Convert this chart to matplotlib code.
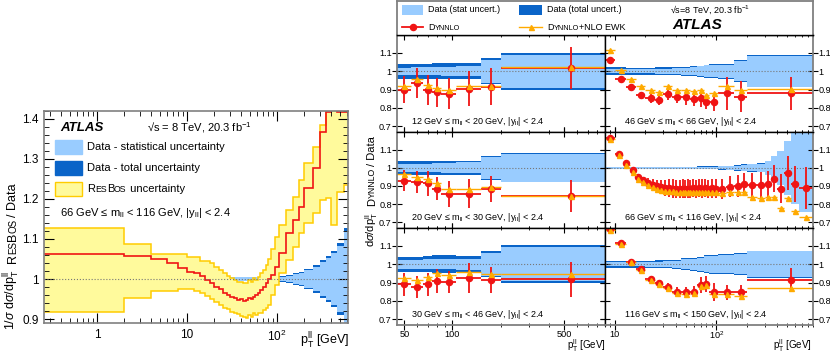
import numpy as np
import matplotlib.pyplot as plt
from matplotlib.ticker import MultipleLocator, LogLocator, FixedLocator, FuncFormatter, NullFormatter
from matplotlib.offsetbox import TextArea, HPacker, AnchoredOffsetbox
from matplotlib.patches import Rectangle
from matplotlib.lines import Line2D

plt.rcParams['font.family'] = ['Liberation Sans', 'DejaVu Sans']
plt.rcParams['mathtext.fontset'] = 'custom'
plt.rcParams['mathtext.rm'] = 'Liberation Sans'
plt.rcParams['mathtext.it'] = 'Liberation Sans:italic'
plt.rcParams['mathtext.bf'] = 'Liberation Sans:bold'

STAT = '#99ccff'
TOTAL = '#0a64c8'
YFILL = '#fffa9c'
YEDGE = '#ffcc00'
RED = '#f01414'
ORANGE = '#ffaa00'
FRAME = '#808080'

# ---------------- left panel: ResBos / data, 66 <= m < 116 GeV
z_edges = [0.2, 2, 4, 6, 8, 10, 12, 14, 16, 18, 20, 22.5, 25, 27.5, 30, 33, 36, 39, 42,
           45, 48, 51, 54, 57, 61, 65, 70, 75, 80, 85, 95, 105, 125, 150, 175, 200, 250,
           300, 350, 400, 470, 550, 650, 900]
z_tot = [0.0075, 0.005, 0.005, 0.005, 0.005, 0.005, 0.005, 0.005, 0.005, 0.005, 0.005,
         0.005, 0.005, 0.005, 0.005, 0.005, 0.005, 0.005, 0.005, 0.005, 0.005, 0.005,
         0.005, 0.005, 0.005, 0.005, 0.005, 0.005, 0.005, 0.005, 0.006, 0.007, 0.009,
         0.015, 0.018, 0.025, 0.035, 0.047, 0.058, 0.07, 0.09, 0.127, 0.2]
z_stat = [0.003, 0.003, 0.003, 0.003, 0.003, 0.004, 0.004, 0.004, 0.004, 0.004, 0.004,
          0.004, 0.004, 0.004, 0.004, 0.004, 0.004, 0.004, 0.004, 0.004, 0.004, 0.004,
          0.004, 0.004, 0.004, 0.004, 0.004, 0.004, 0.004, 0.004, 0.005, 0.006, 0.008,
          0.013, 0.016, 0.022, 0.031, 0.042, 0.052, 0.064, 0.083, 0.12, 0.19]
rb_ratio = [1.062, 1.058, 1.049, 1.039, 1.027, 1.018, 1.014, 1.008, 0.998, 0.989, 0.981,
            0.974, 0.966, 0.960, 0.956, 0.952, 0.947, 0.949, 0.945, 0.947, 0.952, 0.949,
            0.956, 0.960, 0.964, 0.972, 0.981, 0.991, 1.000, 1.010, 1.031, 1.064, 1.114,
            1.148, 1.181, 1.227, 1.277, 1.368, 1.417, 1.45, 1.417, 1.417, 1.45]
rb_up = [1.128, 1.087, 1.062, 1.062, 1.062, 1.056, 1.056, 1.046, 1.046, 1.039, 1.031,
         1.022, 1.014, 1.008, 1.002, 0.998, 0.993, 0.993, 0.989, 0.991, 0.998, 0.993,
         1.002, 0.998, 1.006, 1.014, 1.022, 1.035, 1.050, 1.075, 1.106, 1.135, 1.172,
         1.206, 1.248, 1.289, 1.331, 1.385, 1.45, 1.45, 1.45, 1.45, 1.45]
rb_down = [0.917, 0.952, 0.970, 0.970, 0.974, 0.974, 0.971, 0.966, 0.958, 0.949, 0.943,
           0.935, 0.928, 0.924, 0.918, 0.914, 0.912, 0.908, 0.904, 0.902, 0.910, 0.906,
           0.914, 0.910, 0.914, 0.916, 0.922, 0.927, 0.935, 0.960, 0.985, 1.014, 1.048,
           1.081, 1.114, 1.139, 1.164, 1.198, 1.202, 1.135, 1.218, 1.235, 1.30]

# ---------------- right panels: DYNNLO / data
low_edges = [45, 55, 65, 75, 85, 105, 150, 200, 900]
mid_edges = [8, 10, 13, 16, 20, 25, 30, 37, 45, 55, 65, 75, 85, 105, 150, 200, 900]
z8_edges = [8, 10, 12, 14, 16, 18, 20, 22.5, 25, 27.5, 30, 33, 36, 39, 42, 45, 48, 51, 54,
            57, 61, 65, 70, 75, 80, 85, 95, 105, 125, 150, 175, 200, 250, 300, 350, 400,
            470, 550, 650, 900]

# 12-20 GeV
m12_tot = [0.04, 0.041, 0.042, 0.043, 0.044, 0.045, 0.072, 0.10]
m12_stat = [0.02, 0.021, 0.022, 0.023, 0.024, 0.026, 0.062, 0.09]
m12_dyn = [0.90, 0.935, 0.897, 0.885, 0.877, 0.904, 0.916, 1.02]
m12_err = [0.075, 0.08, 0.08, 0.08, 0.085, 0.095, 0.10, 0.115]
m12_ewk = [0.92, 0.955, 0.925, 0.908, 0.895, 0.917, 0.92, 1.023]
# 20-30 GeV
m20_tot = [0.037, 0.037, 0.038, 0.038, 0.039, 0.04, 0.066, 0.08]
m20_stat = [0.022, 0.023, 0.024, 0.025, 0.026, 0.03, 0.062, 0.077]
m20_dyn = [0.93, 0.921, 0.914, 0.886, 0.856, 0.856, 0.883, 0.844]
m20_err = [0.057, 0.06, 0.07, 0.065, 0.07, 0.08, 0.07, 0.087]
m20_ewk = [0.965, 0.947, 0.94, 0.914, 0.886, 0.883, 0.895, 0.846]
# 30-46 GeV
m30_tot = [0.042, 0.042, 0.045, 0.05, 0.048, 0.045, 0.072, 0.103]
m30_stat = [0.025, 0.025, 0.026, 0.028, 0.028, 0.03, 0.062, 0.093]
m30_dyn = [0.89, 0.874, 0.89, 0.908, 0.901, 0.923, 0.914, 0.918]
m30_err = [0.064, 0.06, 0.064, 0.064, 0.06, 0.082, 0.07, 0.096]
m30_ewk = [0.923, 0.914, 0.932, 0.95, 0.939, 0.96, 0.945, 0.945]
# 46-66 GeV
m46_tot = [0.022, 0.021, 0.02, 0.02, 0.02, 0.021, 0.022, 0.023, 0.025, 0.027, 0.03,
           0.036, 0.037, 0.04, 0.06, 0.088]
m46_stat = [0.012, 0.011, 0.011, 0.011, 0.012, 0.013, 0.014, 0.016, 0.019, 0.022, 0.026,
            0.032, 0.033, 0.036, 0.056, 0.085]
m46_dyn = [1.059, 0.957, 0.915, 0.87, 0.852, 0.843, 0.874, 0.861, 0.858, 0.849, 0.852,
           0.831, 0.831, 0.879, 0.861, 0.879]
m46_err = [0.01, 0.01, 0.012, 0.018, 0.025, 0.028, 0.03, 0.035, 0.04, 0.04, 0.045,
           0.035, 0.05, 0.09, 0.085, 0.09]
m46_ewk = [1.117, 1.009, 0.96, 0.919, 0.897, 0.888, 0.919, 0.90, 0.897, 0.892, 0.897,
           0.87, 0.88, 0.919, 0.897, 0.901]
# 66-116 GeV
m66_tot = [0.007, 0.007, 0.007, 0.007, 0.007, 0.007, 0.007, 0.007, 0.007, 0.007, 0.007,
           0.007, 0.007, 0.007, 0.007, 0.007, 0.007, 0.007, 0.007, 0.007, 0.007, 0.008,
           0.008, 0.008, 0.008, 0.009, 0.009, 0.01, 0.012, 0.015, 0.02, 0.022, 0.025,
           0.04, 0.067, 0.094, 0.15, 0.2, 0.245]
m66_stat = [0.004, 0.004, 0.004, 0.004, 0.004, 0.004, 0.004, 0.004, 0.004, 0.004, 0.004,
            0.004, 0.004, 0.004, 0.004, 0.004, 0.004, 0.004, 0.004, 0.004, 0.005, 0.005,
            0.005, 0.005, 0.006, 0.006, 0.007, 0.008, 0.01, 0.013, 0.018, 0.02, 0.023,
            0.038, 0.065, 0.092, 0.148, 0.198, 0.243]
m66_dyn = [1.166, 1.079, 1.025, 0.986, 0.95, 0.932, 0.917, 0.906, 0.898, 0.893, 0.889,
           0.887, 0.886, 0.885, 0.884, 0.886, 0.884, 0.886, 0.885, 0.887, 0.885, 0.887,
           0.886, 0.888, 0.885, 0.887, 0.884, 0.881, 0.895, 0.899, 0.91, 0.905, 0.905,
           0.91, 0.94, 0.886, 0.971, 0.91, 0.89]
m66_err = [0.008, 0.008, 0.01, 0.012, 0.015, 0.02, 0.025, 0.03, 0.035, 0.04, 0.045, 0.05,
           0.05, 0.05, 0.05, 0.05, 0.05, 0.05, 0.05, 0.05, 0.05, 0.05, 0.05,
           0.05, 0.05, 0.052, 0.052, 0.055, 0.058, 0.06, 0.062, 0.068, 0.07, 0.072,
           0.075, 0.08, 0.095, 0.1, 0.115]
m66_ewk = [1.157, 1.072, 1.018, 0.978, 0.941, 0.922, 0.906, 0.894, 0.886, 0.879, 0.875,
           0.872, 0.87, 0.869, 0.868, 0.869, 0.867, 0.869, 0.867, 0.869, 0.866, 0.868,
           0.866, 0.867, 0.865, 0.866, 0.864, 0.86, 0.868, 0.868, 0.868, 0.841, 0.832,
           0.841, 0.838, 0.78, 0.832, 0.76, 0.73]
# 116-150 GeV
m116_tot = [0.02, 0.02, 0.02, 0.02, 0.02, 0.021, 0.022, 0.025, 0.033, 0.036, 0.04, 0.05,
            0.052, 0.055, 0.06, 0.075]
m116_stat = [0.012, 0.012, 0.012, 0.012, 0.013, 0.014, 0.016, 0.019, 0.027, 0.031, 0.035,
             0.045, 0.047, 0.05, 0.056, 0.072]
m116_dyn = [1.19, 1.115, 1.014, 0.973, 0.918, 0.896, 0.874, 0.85, 0.846, 0.85, 0.886,
            0.892, 0.85, 0.846, 0.846, 0.914]
m116_err = [0.01, 0.01, 0.012, 0.015, 0.018, 0.02, 0.025, 0.025, 0.028, 0.03, 0.045,
            0.045, 0.05, 0.04, 0.04, 0.064]
m116_ewk = [1.185, 1.112, 1.01, 0.968, 0.914, 0.891, 0.869, 0.843, 0.84, 0.845, 0.88,
            0.886, 0.84, 0.835, 0.826, 0.868]

W, H = 830, 355
fig = plt.figure(figsize=(W / 100, H / 100), dpi=100)


def box(x0, y0, x1, y1):
    # pixel box measured from the top-left corner -> figure fraction rect
    return [x0 / W, 1 - y1 / H, (x1 - x0) / W, (y1 - y0) / H]


def fpt(x, y):
    return (x / W, 1 - y / H)


def sc_text(x, y, parts, loc='center left'):
    # mixed-size text ("small caps") placed at figure pixel (x, y)
    kids = [TextArea(s, textprops=dict(size=sz, color='black')) for s, sz in parts]
    pack = HPacker(children=kids, align='baseline', pad=0, sep=0)
    ab = AnchoredOffsetbox(loc=loc, child=pack, bbox_to_anchor=fpt(x, y),
                           bbox_transform=fig.transFigure, frameon=False, pad=0, borderpad=0)
    fig.add_artist(ab)


def vchain(x, y, parts):
    # vertical label built from pieces, reading upwards from (x, y) pixels
    rend = fig.canvas.get_renderer()
    cur = H - y
    for s, sz, gap in parts:
        t = fig.text(x / W, cur / H, s, fontsize=sz, rotation=90, rotation_mode='anchor',
                     ha='left', va='baseline')
        cur += t.get_window_extent(rend).height + gap


def band(ax, edges, tot, stat):
    tot = np.array(tot)
    stat = np.array(stat)
    ax.stairs(1 + tot, edges, baseline=1 - tot, fill=True, color=TOTAL, lw=0)
    ax.stairs(1 + stat, edges, baseline=1 - stat, fill=True, color=STAT, lw=0)


# ---------------- left panel
axL = fig.add_axes(box(44, 111, 348, 323))
axL.set_xscale('log')
band(axL, z_edges, z_tot, z_stat)
axL.stairs(rb_up, z_edges, baseline=rb_down, fill=True, facecolor=YFILL,
           edgecolor=YEDGE, lw=1.1)
axL.axhline(1, color='#777777', ls=':', lw=0.8)
axL.stairs(rb_ratio, z_edges, baseline=None, color=RED, lw=1.2)
axL.set_xlim(0.258, 615)
axL.set_ylim(0.89, 1.42)
axL.yaxis.set_major_locator(MultipleLocator(0.1))
axL.yaxis.set_minor_locator(MultipleLocator(0.02))
axL.yaxis.set_major_formatter(FuncFormatter(lambda v, p: '%g' % round(v, 2)))
axL.xaxis.set_major_locator(LogLocator(base=10))
axL.xaxis.set_minor_locator(LogLocator(base=10, subs=np.arange(2, 10)))
axL.xaxis.set_minor_formatter(NullFormatter())
xl_names = {1: '1', 10: '10', 100: '$10^{2}$'}
axL.xaxis.set_major_formatter(FuncFormatter(lambda v, p: xl_names.get(int(round(v)), '')))
axL.tick_params(which='both', direction='in', top=True, right=True, labelsize=8.5,
                colors='black')
axL.tick_params(which='major', length=7, pad=4)
axL.tick_params(which='minor', length=3.5)
for sp in axL.spines.values():
    sp.set_color(FRAME)
    sp.set_linewidth(1.2)

fig.text(*fpt(60, 128), 'ATLAS', fontsize=9.5, fontweight='bold', style='italic', va='center')
fig.text(*fpt(147, 128), r'√s = 8 TeV, 20.3 fb$^{-1}$', fontsize=8, va='center')
leg_rows = [(147, STAT, STAT), (168, TOTAL, TOTAL), (189, YFILL, YEDGE)]
for yy, fc, ec in leg_rows:
    fig.add_artist(Rectangle(fpt(55, yy + 7), 27 / W, 14 / H, transform=fig.transFigure,
                             facecolor=fc, edgecolor=ec, lw=1))
fig.text(*fpt(87, 147), 'Data - statistical uncertainty', fontsize=8, va='center')
fig.text(*fpt(87, 168), 'Data - total uncertainty', fontsize=8, va='center')
sc_text(87, 189, [('R', 8), ('ES', 6.3), ('B', 8), ('OS', 6.3), (' uncertainty', 8)])
fig.text(*fpt(60, 213), r'66 GeV ≤ m$_{\rm ll}$ < 116 GeV, |y$_{\rm ll}$| < 2.4',
         fontsize=8, va='center')
fig.text(*fpt(349, 341), r'p$_{\rm T}^{\rm ll}$ [GeV]', fontsize=9, ha='right', va='center')
vchain(16, 330, [(r'1/$\sigma$ d$\sigma$/dp$_{\rm T}^{\rm ll}$', 9, 6), ('R', 9, 0),
                 ('ES', 7, 0), ('B', 9, 0), ('OS', 7, 2), ('/ Data', 9, 0)])

# ---------------- right panels
cols = [(397, 605), (605, 813)]
rows = [(35, 132), (132, 228), (228, 325)]
panels = [
    (0, 0, low_edges, m12_tot, m12_stat, m12_dyn, m12_err, m12_ewk, '12 GeV', '20 GeV'),
    (0, 1, mid_edges, m46_tot, m46_stat, m46_dyn, m46_err, m46_ewk, '46 GeV', '66 GeV'),
    (1, 0, low_edges, m20_tot, m20_stat, m20_dyn, m20_err, m20_ewk, '20 GeV', '30 GeV'),
    (1, 1, z8_edges, m66_tot, m66_stat, m66_dyn, m66_err, m66_ewk, '66 GeV', '116 GeV'),
    (2, 0, low_edges, m30_tot, m30_stat, m30_dyn, m30_err, m30_ewk, '30 GeV', '46 GeV'),
    (2, 1, mid_edges, m116_tot, m116_stat, m116_dyn, m116_err, m116_ewk, '116 GeV', '150 GeV'),
]
for r, c, edges, tot, stat, dyn, err, ewk, lo, hi in panels:
    ax = fig.add_axes(box(cols[c][0], rows[r][0], cols[c][1], rows[r][1]))
    ax.set_xscale('log')
    band(ax, edges, tot, stat)
    ax.axhline(1, color='#777777', ls=':', lw=0.8)
    e = np.array(edges, dtype=float)
    ctr = 0.5 * (e[1:] + e[:-1])
    xerr = [ctr - e[:-1], e[1:] - ctr]
    ax.errorbar(ctr, dyn, yerr=err, xerr=xerr, fmt='o', color=RED, ms=4.4,
                elinewidth=1.3, capsize=0)
    ax.errorbar(ctr, ewk, xerr=xerr, fmt='^', color=ORANGE, ms=3.6, elinewidth=1.0,
                capsize=0)
    ax.set_ylim(0.668, 1.198)
    ax.yaxis.set_major_locator(MultipleLocator(0.1))
    ax.yaxis.set_major_formatter(FuncFormatter(lambda v, p: '%g' % round(v, 2)))
    if c == 0:
        ax.set_xlim(45, 900)
        ax.xaxis.set_major_locator(FixedLocator([50, 100, 500]))
        ax.xaxis.set_minor_locator(FixedLocator([60, 70, 80, 90, 200, 300, 400, 600, 700, 800]))
        ax.xaxis.set_major_formatter(FuncFormatter(lambda v, p: '%d' % v))
    else:
        ax.set_xlim(8, 900)
        ax.xaxis.set_major_locator(FixedLocator([10, 100]))
        ax.xaxis.set_minor_locator(LogLocator(base=10, subs=np.arange(2, 10)))
        ax.xaxis.set_major_formatter(FuncFormatter(lambda v, p: '10' if v < 50 else '$10^{2}$'))
    ax.xaxis.set_minor_formatter(NullFormatter())
    ax.tick_params(which='both', direction='inout', top=True, bottom=True, left=True,
                   right=True, labelsize=6.6, pad=0.5)
    ax.tick_params(which='major', length=6.5)
    ax.tick_params(which='minor', length=3.5)
    ax.tick_params(axis='y', labelleft=(c == 0), labelright=(c == 1))
    ax.tick_params(axis='x', labelbottom=(r == 2), pad=0)
    for name, sp in ax.spines.items():
        sp.set_linewidth(1.0)
        outer = (name == 'left' and c == 0) or (name == 'right' and c == 1) or \
                (name == 'bottom' and r == 2)
        sp.set_color(FRAME if outer else 'black')
        if outer:
            sp.set_linewidth(1.3)
    tx = 0.065 if c == 0 else 0.09
    ax.text(tx, 0.105, lo + r' ≤ m$_{\rm ll}$ < ' + hi + r', |y$_{\rm ll}$| < 2.4',
            transform=ax.transAxes, fontsize=6.5, va='center')

fig.text(*fpt(606, 346), r'p$_{\rm T}^{\rm ll}$ [GeV]', fontsize=7, ha='right', va='center')
fig.text(*fpt(812, 346), r'p$_{\rm T}^{\rm ll}$ [GeV]', fontsize=7, ha='right', va='center')
vchain(375, 247, [(r'd$\sigma$/dp$_{\rm T}^{\rm ll}$', 8, 6), ('D', 8, 0), ('YNNLO', 6.3, 2),
                  ('/ Data', 8, 0)])

# legend strip above the right panels
axg = fig.add_axes(box(397, 0.5, 813, 35))
axg.set_xlim(397, 813)
axg.set_ylim(35, 0.5)
axg.set_xticks([])
axg.set_yticks([])
for name, sp in axg.spines.items():
    sp.set_color(FRAME if name != 'bottom' else 'black')
    sp.set_linewidth(1.3 if name != 'bottom' else 1.0)
axg.add_patch(Rectangle((402, 5), 21, 10, facecolor=STAT, edgecolor='none'))
axg.add_patch(Rectangle((519, 5), 23, 10, facecolor=TOTAL, edgecolor='none'))
axg.add_line(Line2D([402, 412.5, 423], [27, 27, 27], color=RED, lw=1.3, marker='o', ms=4.4,
                    markevery=[1]))
axg.add_line(Line2D([519, 530.5, 542], [27, 27, 27], color=ORANGE, lw=1.0, marker='^',
                    ms=3.6, markevery=[1]))
fig.text(*fpt(428, 10), 'Data (stat uncert.)', fontsize=6.5, va='center')
fig.text(*fpt(547, 10), 'Data (total uncert.)', fontsize=6.5, va='center')
sc_text(428, 27, [('D', 6.5), ('YNNLO', 5.2)])
sc_text(547, 27, [('D', 6.5), ('YNNLO', 5.2), ('+NLO EWK', 6.5)])
fig.text(*fpt(670, 10), r'√s=8 TeV, 20.3 fb$^{-1}$', fontsize=6.5, va='center')
fig.text(*fpt(672, 25), 'ATLAS', fontsize=11, fontweight='bold', style='italic', va='center')

fig.savefig('out.png', dpi=100)
